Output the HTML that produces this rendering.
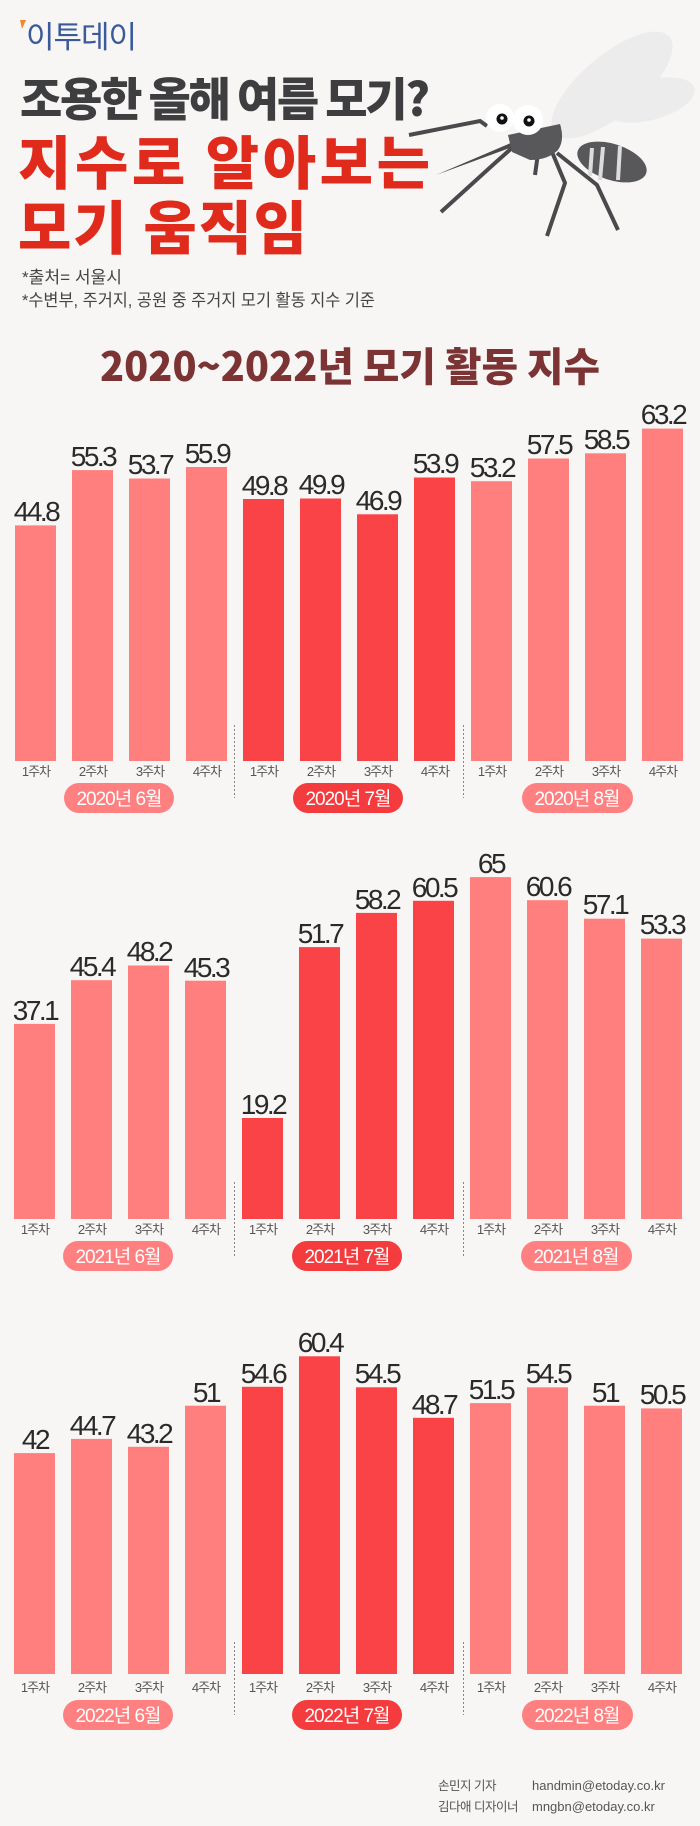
<!DOCTYPE html>
<html><head><meta charset="utf-8"><style>
html,body{margin:0;padding:0;background:#f7f6f4}
svg{display:block}
.v{font-family:"Liberation Sans","Noto Sans CJK KR",sans-serif;font-size:28px;fill:#2a2a2a;letter-spacing:-2.5px;text-anchor:middle}
.w{font-family:"Liberation Sans","Noto Sans CJK KR",sans-serif;font-size:13px;fill:#555;letter-spacing:-1px;text-anchor:middle}
.p{font-family:"Liberation Sans","Noto Sans CJK KR",sans-serif;font-size:19px;fill:#fff;letter-spacing:-1px;text-anchor:middle}
.l{fill:#ff7f7f}.d{fill:#f94346}
.k{stroke:#888;stroke-width:1;stroke-dasharray:2,2}
</style></head><body>
<svg width="700" height="1826" viewBox="0 0 700 1826" xmlns="http://www.w3.org/2000/svg">
<rect width="700" height="1826" fill="#f7f6f4"/>
<!-- header -->
<path d="M20 20 L26 20 L22 29 Z" fill="#f08a2c"/>
<text x="26" y="48" font-family="Liberation Sans,'Noto Sans CJK KR',sans-serif" font-size="31" fill="#3b5a9c" letter-spacing="-1">이투데이</text>
<text x="20" y="116" font-family="'Noto Sans CJK KR',sans-serif" font-weight="900" font-size="46" fill="#3e3e40" textLength="410" lengthAdjust="spacing">조용한 올해 여름 모기?</text>
<text x="18" y="184" font-family="'Noto Sans CJK KR',sans-serif" font-weight="900" font-size="58" fill="#e02a1c" textLength="412" lengthAdjust="spacing">지수로 알아보는</text>
<text x="18" y="249" font-family="'Noto Sans CJK KR',sans-serif" font-weight="900" font-size="58" fill="#e02a1c" textLength="289" lengthAdjust="spacing">모기 움직임</text>
<text x="22" y="283" font-family="Liberation Sans,'Noto Sans CJK KR',sans-serif" font-size="17" fill="#444" textLength="100" lengthAdjust="spacingAndGlyphs">*출처= 서울시</text>
<text x="22" y="306" font-family="Liberation Sans,'Noto Sans CJK KR',sans-serif" font-size="17" fill="#444" textLength="353" lengthAdjust="spacingAndGlyphs">*수변부, 주거지, 공원 중 주거지 모기 활동 지수 기준</text>
<text x="100" y="381" font-family="'Noto Sans CJK KR',sans-serif" font-weight="900" font-size="40" fill="#7b3334" textLength="500" lengthAdjust="spacingAndGlyphs">2020~2022년 모기 활동 지수</text>
<!-- mosquito -->
<g>
<ellipse cx="612" cy="85" rx="75" ry="30" transform="rotate(-40 612 85)" fill="#ececed"/>
<ellipse cx="650" cy="100" rx="46" ry="20" transform="rotate(-15 650 100)" fill="#ececed"/>
<g stroke="#4a4a4d" stroke-width="4" fill="none" stroke-linecap="butt">
<polyline points="409,135 480,121 487,126"/>
<polyline points="513,147 495,163 441,212"/>
<line x1="538" y1="153" x2="535" y2="175"/>
<polyline points="552,152 565,183 547,236"/>
<polyline points="557,153 597,185 618,230"/>
</g>
<polygon points="436,175 513,142 515,146" fill="#4a4a4d"/>
<ellipse cx="612" cy="162" rx="36" ry="18" transform="rotate(18 612 162)" fill="#58585b"/>
<g stroke="#dcdcdc" stroke-width="4"><line x1="592" y1="148" x2="590" y2="176"/><line x1="603" y1="147" x2="600" y2="180"/><line x1="620" y1="146" x2="618" y2="180"/></g>
<path d="M508 135 L560 124 Q565 140 558 150 Q548 160 530 160 L512 152 Z" fill="#58585b"/>
<circle cx="500" cy="118" r="14" fill="#fff"/>
<circle cx="528" cy="120" r="15" fill="#fff"/>
<circle cx="502" cy="119" r="5.5" fill="#111"/><circle cx="502" cy="118" r="1.8" fill="#fff"/>
<circle cx="529" cy="121" r="5.5" fill="#111"/><circle cx="529" cy="120" r="1.8" fill="#fff"/>
</g>

<!-- CHART 1 bottom 761 -->
<line class="k" x1="234.5" y1="725" x2="234.5" y2="798"/><line class="k" x1="463.5" y1="725" x2="463.5" y2="798"/>
<rect class="l" x="15" y="525.4" width="41" height="235.6"/>
<rect class="l" x="72" y="470.1" width="41" height="290.9"/>
<rect class="l" x="129" y="478.5" width="41" height="282.5"/>
<rect class="l" x="186" y="467" width="41" height="294"/>
<rect class="d" x="243" y="499" width="41" height="262"/>
<rect class="d" x="300" y="498.5" width="41" height="262.5"/>
<rect class="d" x="357" y="514.3" width="41" height="246.7"/>
<rect class="d" x="414" y="477.5" width="41" height="283.5"/>
<rect class="l" x="471" y="481.2" width="41" height="279.8"/>
<rect class="l" x="528" y="458.5" width="41" height="302.5"/>
<rect class="l" x="585" y="453.3" width="41" height="307.7"/>
<rect class="l" x="642" y="428.6" width="41" height="332.4"/>
<text class="v" x="36" y="521">44.8</text><text class="v" x="93" y="466">55.3</text><text class="v" x="150" y="474">53.7</text><text class="v" x="207" y="463">55.9</text>
<text class="v" x="264" y="495">49.8</text><text class="v" x="321" y="494">49.9</text><text class="v" x="378" y="510">46.9</text><text class="v" x="435" y="473">53.9</text>
<text class="v" x="492" y="477">53.2</text><text class="v" x="549" y="454">57.5</text><text class="v" x="606" y="449">58.5</text><text class="v" x="663" y="424">63.2</text>
<text class="w" x="36" y="776">1주차</text><text class="w" x="93" y="776">2주차</text><text class="w" x="150" y="776">3주차</text><text class="w" x="207" y="776">4주차</text><text class="w" x="264" y="776">1주차</text><text class="w" x="321" y="776">2주차</text><text class="w" x="378" y="776">3주차</text><text class="w" x="435" y="776">4주차</text><text class="w" x="492" y="776">1주차</text><text class="w" x="549" y="776">2주차</text><text class="w" x="606" y="776">3주차</text><text class="w" x="663" y="776">4주차</text>
<rect x="64" y="783" width="110" height="30" rx="15" fill="#ff8080"/><text class="p" x="119" y="805">2020년 6월</text>
<rect x="293" y="783" width="110" height="30" rx="15" fill="#f43c3f"/><text class="p" x="348" y="805">2020년 7월</text>
<rect x="522" y="783" width="111" height="30" rx="15" fill="#ff8080"/><text class="p" x="577" y="805">2020년 8월</text>

<!-- CHART 2 bottom 1219 -->
<line class="k" x1="234.5" y1="1182" x2="234.5" y2="1256"/><line class="k" x1="463.5" y1="1182" x2="463.5" y2="1256"/>
<rect class="l" x="14" y="1023.9" width="41" height="195.1"/>
<rect class="l" x="71" y="980.2" width="41" height="238.8"/>
<rect class="l" x="128" y="965.5" width="41" height="253.5"/>
<rect class="l" x="185" y="980.7" width="41" height="238.3"/>
<rect class="d" x="242" y="1118" width="41" height="101"/>
<rect class="d" x="299" y="947.1" width="41" height="271.9"/>
<rect class="d" x="356" y="912.9" width="41" height="306.1"/>
<rect class="d" x="413" y="900.8" width="41" height="318.2"/>
<rect class="l" x="470" y="877.1" width="41" height="341.9"/>
<rect class="l" x="527" y="900.2" width="41" height="318.8"/>
<rect class="l" x="584" y="918.7" width="41" height="300.3"/>
<rect class="l" x="641" y="938.6" width="41" height="280.4"/>
<text class="v" x="35" y="1020">37.1</text><text class="v" x="92" y="976">45.4</text><text class="v" x="149" y="961">48.2</text><text class="v" x="206" y="977">45.3</text>
<text class="v" x="263" y="1114">19.2</text><text class="v" x="320" y="943">51.7</text><text class="v" x="377" y="909">58.2</text><text class="v" x="434" y="897">60.5</text>
<text class="v" x="491" y="873">65</text><text class="v" x="548" y="896">60.6</text><text class="v" x="605" y="914">57.1</text><text class="v" x="662" y="934">53.3</text>
<text class="w" x="35" y="1234">1주차</text><text class="w" x="92" y="1234">2주차</text><text class="w" x="149" y="1234">3주차</text><text class="w" x="206" y="1234">4주차</text><text class="w" x="263" y="1234">1주차</text><text class="w" x="320" y="1234">2주차</text><text class="w" x="377" y="1234">3주차</text><text class="w" x="434" y="1234">4주차</text><text class="w" x="491" y="1234">1주차</text><text class="w" x="548" y="1234">2주차</text><text class="w" x="605" y="1234">3주차</text><text class="w" x="662" y="1234">4주차</text>
<rect x="63" y="1241" width="110" height="30" rx="15" fill="#ff8080"/><text class="p" x="118" y="1263">2021년 6월</text>
<rect x="292" y="1241" width="110" height="30" rx="15" fill="#f43c3f"/><text class="p" x="347" y="1263">2021년 7월</text>
<rect x="521" y="1241" width="111" height="30" rx="15" fill="#ff8080"/><text class="p" x="576" y="1263">2021년 8월</text>

<!-- CHART 3 bottom 1674 -->
<line class="k" x1="234.5" y1="1642" x2="234.5" y2="1715"/><line class="k" x1="463.5" y1="1642" x2="463.5" y2="1715"/>
<rect class="l" x="14" y="1453.1" width="41" height="220.9"/>
<rect class="l" x="71" y="1438.9" width="41" height="235.1"/>
<rect class="l" x="128" y="1446.8" width="41" height="227.2"/>
<rect class="l" x="185" y="1405.7" width="41" height="268.3"/>
<rect class="d" x="242" y="1386.8" width="41" height="287.2"/>
<rect class="d" x="299" y="1356.3" width="41" height="317.7"/>
<rect class="d" x="356" y="1387.3" width="41" height="286.7"/>
<rect class="d" x="413" y="1417.8" width="41" height="256.2"/>
<rect class="l" x="470" y="1403.1" width="41" height="270.9"/>
<rect class="l" x="527" y="1387.3" width="41" height="286.7"/>
<rect class="l" x="584" y="1405.7" width="41" height="268.3"/>
<rect class="l" x="641" y="1408.4" width="41" height="265.6"/>
<text class="v" x="35" y="1449">42</text><text class="v" x="92" y="1435">44.7</text><text class="v" x="149" y="1443">43.2</text><text class="v" x="206" y="1402">51</text>
<text class="v" x="263" y="1383">54.6</text><text class="v" x="320" y="1352">60.4</text><text class="v" x="377" y="1383">54.5</text><text class="v" x="434" y="1414">48.7</text>
<text class="v" x="491" y="1399">51.5</text><text class="v" x="548" y="1383">54.5</text><text class="v" x="605" y="1402">51</text><text class="v" x="662" y="1404">50.5</text>
<text class="w" x="35" y="1692">1주차</text><text class="w" x="92" y="1692">2주차</text><text class="w" x="149" y="1692">3주차</text><text class="w" x="206" y="1692">4주차</text><text class="w" x="263" y="1692">1주차</text><text class="w" x="320" y="1692">2주차</text><text class="w" x="377" y="1692">3주차</text><text class="w" x="434" y="1692">4주차</text><text class="w" x="491" y="1692">1주차</text><text class="w" x="548" y="1692">2주차</text><text class="w" x="605" y="1692">3주차</text><text class="w" x="662" y="1692">4주차</text>
<rect x="63" y="1700" width="110" height="30" rx="15" fill="#ff8080"/><text class="p" x="118" y="1722">2022년 6월</text>
<rect x="292" y="1700" width="110" height="30" rx="15" fill="#f43c3f"/><text class="p" x="347" y="1722">2022년 7월</text>
<rect x="522" y="1700" width="111" height="30" rx="15" fill="#ff8080"/><text class="p" x="577" y="1722">2022년 8월</text>

<!-- footer -->
<text x="438" y="1790" font-family="Liberation Sans,'Noto Sans CJK KR',sans-serif" font-size="12.5" fill="#555" letter-spacing="-0.5">손민지 기자</text>
<text x="438" y="1811" font-family="Liberation Sans,'Noto Sans CJK KR',sans-serif" font-size="12.5" fill="#555" letter-spacing="-0.5">김다애 디자이너</text>
<text x="532" y="1790" font-family="Liberation Sans,sans-serif" font-size="13" fill="#555">handmin@etoday.co.kr</text>
<text x="532" y="1811" font-family="Liberation Sans,sans-serif" font-size="13" fill="#555">mngbn@etoday.co.kr</text>
</svg>
</body></html>
